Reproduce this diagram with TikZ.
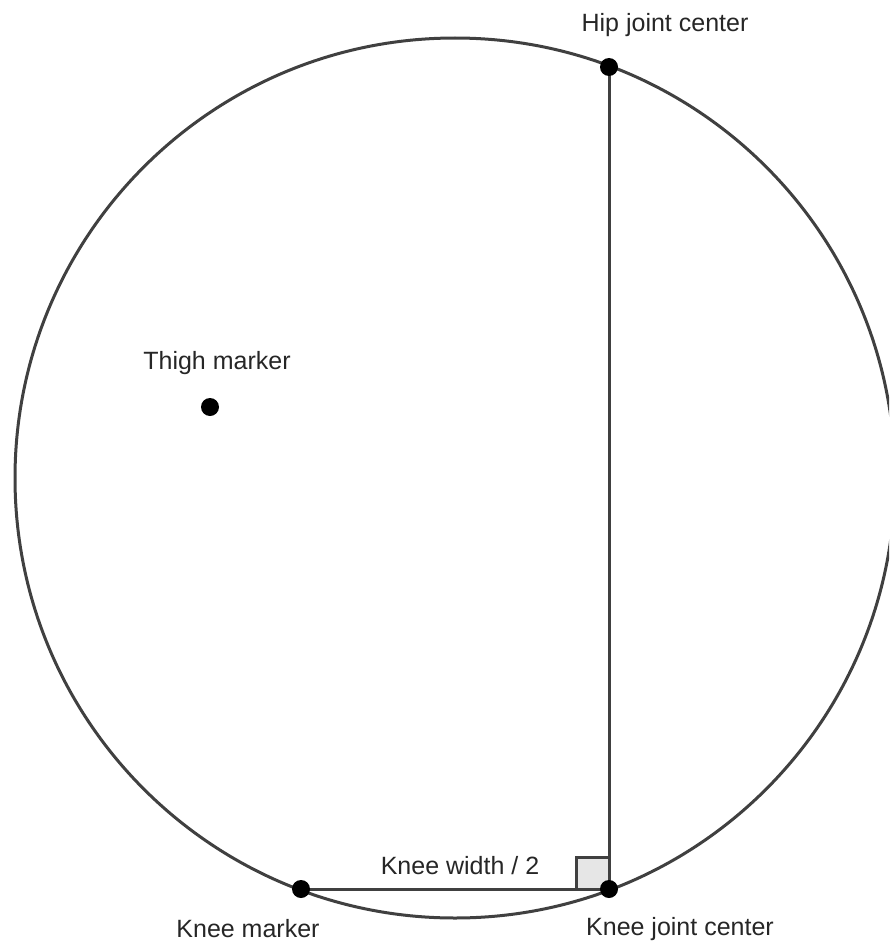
\documentclass[tikz,border=0pt]{standalone}
\usepackage{fontspec}
\setmainfont{Liberation Sans}
\usepackage{tikz}
\usetikzlibrary{calc}
\definecolor{linegray}{RGB}{64, 64, 64}
\definecolor{boxgray}{RGB}{230, 230, 230}

\begin{document}
\begin{tikzpicture}[x=1pt, y=-1pt,
    lbl/.style={font=\fontsize{25}{30}\selectfont, text=black!85, inner sep=0pt},
    marker/.style={circle, fill=black, inner sep=0pt, minimum size=18pt}]
    \useasboundingbox (0,0) rectangle (889,942);
    \clip (0,0) rectangle (889,942);
    % points
    \coordinate (centre) at (455,478);
    \coordinate (hip) at (609,67);
    \coordinate (kneejc) at (609,889);
    \coordinate (kneem) at (301,889);
    \coordinate (thigh) at (210,407);
    \draw[linegray, line width=3pt] (centre) circle (440);
    \draw[linegray, line width=3pt, fill=boxgray] ($(kneejc)+(-33,0)$) rectangle ($(kneejc)+(0,-32)$);
    \draw[linegray, line width=3pt] (hip) -- (kneejc) -- (kneem);
    \node[marker] (hipdot) at (hip) {};
    \node[marker] (kneejcdot) at (kneejc) {};
    \node[marker] (kneemdot) at (kneem) {};
    \node[marker] (thighdot) at (thigh) {};
    % labels
    \node[lbl] (hiplbl) at (665,25) {Hip joint center};
    \node[lbl] (thighlbl) at (217,363) {Thigh marker};
    \node[lbl] (widthlbl) at (460,866) {Knee width / 2};
    \node[lbl] (kneemlbl) at (248,929) {Knee marker};
    \node[lbl] (kneejclbl) at (680,929) {Knee joint center};
\end{tikzpicture}
\end{document}
